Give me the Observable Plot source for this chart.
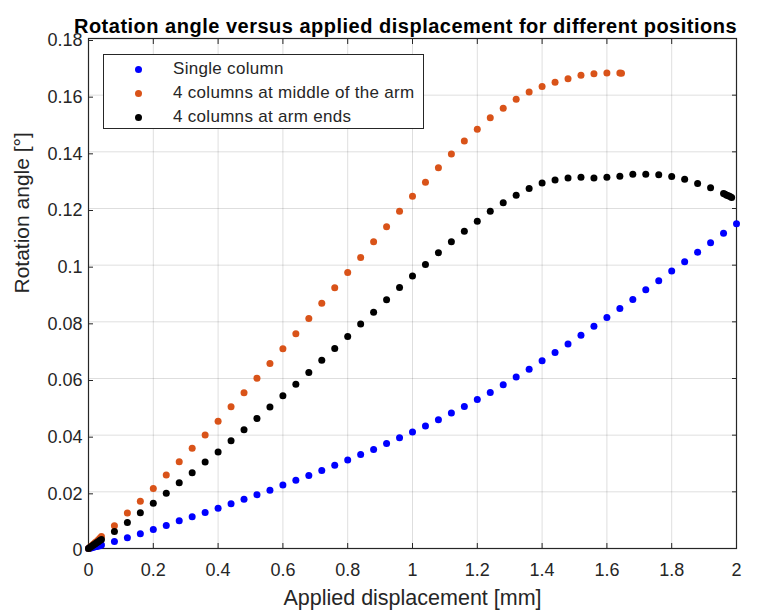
<!DOCTYPE html>
<html>
<head>
<meta charset="utf-8">
<script src="https://cdn.jsdelivr.net/npm/d3@7"></script>
<script src="https://cdn.jsdelivr.net/npm/@observablehq/plot@0.6"></script>
<style>
  html, body { margin: 0; padding: 0; background: #fff; }
  #wrap { position: relative; width: 758px; height: 615px; font-family: "Liberation Sans", Arial, Helvetica, sans-serif; }
  #legend { position: absolute; left: 103px; top: 54px; width: 321px; height: 75px; border: 1px solid #262626; background: #fff; box-sizing: border-box; }
  .row { position: absolute; left: 0; height: 22px; display: flex; align-items: center; font-size: 17px; letter-spacing: 0.3px; color: #262626; }
  .sw { position: absolute; left: 31px; width: 7px; height: 7px; border-radius: 50%; }
  .lt { position: absolute; left: 69px; white-space: nowrap; }
  svg text.tl { letter-spacing: 0.8px; }
</style>
</head>
<body>
<div id="wrap"></div>
<script>
// ---- data ----
const seriesNames = ["Single column", "4 columns at middle of the arm", "4 columns at arm ends"];
const seriesColors = ["#0000ff", "#d95319", "#000000"];

const singleX = [0, 0.005, 0.01, 0.015, 0.02, 0.025, 0.03, 0.035, 0.04,
  0.08, 0.12, 0.16, 0.20, 0.24, 0.28, 0.32, 0.36, 0.40, 0.44, 0.48, 0.52, 0.56, 0.60, 0.64, 0.68, 0.72, 0.76, 0.80, 0.84, 0.88, 0.92, 0.96,
  1.00, 1.04, 1.08, 1.12, 1.16, 1.20, 1.24, 1.28, 1.32, 1.36, 1.40, 1.44, 1.48, 1.52, 1.56, 1.60, 1.64, 1.68, 1.72, 1.76, 1.80, 1.84, 1.88, 1.92, 1.96, 2.00];
const singleY = [0, 0.0001, 0.0003, 0.0004, 0.0006, 0.0007, 0.0009, 0.0010, 0.0012,
  0.0025, 0.0038, 0.0052, 0.0067, 0.0081, 0.0098, 0.0112, 0.0127, 0.0142, 0.0158, 0.0174, 0.0190, 0.0206, 0.0224, 0.0241, 0.0258, 0.0275, 0.0294, 0.0312, 0.0332, 0.0349, 0.0371, 0.0391,
  0.0411, 0.0432, 0.0454, 0.0478, 0.0501, 0.0526, 0.0551, 0.0578, 0.0605, 0.0633, 0.0663, 0.0692, 0.0722, 0.0753, 0.0784, 0.0815, 0.0847, 0.0879, 0.0913, 0.0945, 0.0979, 0.1012, 0.1046, 0.1079, 0.1113, 0.1146];

const middleX = [0, 0.005, 0.01, 0.015, 0.02, 0.025, 0.03, 0.035, 0.04,
  0.08, 0.12, 0.16, 0.20, 0.24, 0.28, 0.32, 0.36, 0.40, 0.44, 0.48, 0.52, 0.56, 0.60, 0.64, 0.68, 0.72, 0.76, 0.80, 0.84, 0.88, 0.92, 0.96,
  1.00, 1.04, 1.08, 1.12, 1.16, 1.20, 1.24, 1.28, 1.32, 1.36, 1.40, 1.44, 1.48, 1.52, 1.56, 1.60, 1.64, 1.645];
const middleY = [0, 0.0005, 0.0010, 0.0015, 0.0020, 0.0025, 0.0030, 0.0036, 0.0042,
  0.0080, 0.0125, 0.0167, 0.0212, 0.0259, 0.0306, 0.0354, 0.0401, 0.0449, 0.0500, 0.0550, 0.0601, 0.0653, 0.0705, 0.0758, 0.0812, 0.0866, 0.0920, 0.0974, 0.1027, 0.1083, 0.1136, 0.1190,
  0.1243, 0.1293, 0.1344, 0.1392, 0.1438, 0.1480, 0.1520, 0.1554, 0.1586, 0.1611, 0.1631, 0.1646, 0.1658, 0.1670, 0.1676, 0.1678, 0.1678, 0.1677];

const endsX = [0, 0.005, 0.01, 0.015, 0.02, 0.025, 0.03, 0.035, 0.04,
  0.08, 0.12, 0.16, 0.20, 0.24, 0.28, 0.32, 0.36, 0.40, 0.44, 0.48, 0.52, 0.56, 0.60, 0.64, 0.68, 0.72, 0.76, 0.80, 0.84, 0.88, 0.92, 0.96,
  1.00, 1.04, 1.08, 1.12, 1.16, 1.20, 1.24, 1.28, 1.32, 1.36, 1.40, 1.44, 1.48, 1.52, 1.56, 1.60, 1.64, 1.68, 1.72, 1.76, 1.80, 1.84, 1.88, 1.92, 1.96,
  1.965, 1.97, 1.975, 1.98, 1.985];
const endsY = [0, 0.0004, 0.0008, 0.0012, 0.0016, 0.0020, 0.0024, 0.0028, 0.0032,
  0.0060, 0.0092, 0.0126, 0.0160, 0.0195, 0.0232, 0.0267, 0.0305, 0.0341, 0.0380, 0.0419, 0.0459, 0.0499, 0.0539, 0.0580, 0.0621, 0.0664, 0.0706, 0.0748, 0.0792, 0.0834, 0.0878, 0.0921,
  0.0962, 0.1002, 0.1044, 0.1083, 0.1120, 0.1155, 0.1190, 0.1220, 0.1247, 0.1271, 0.1290, 0.1301, 0.1308, 0.1310, 0.1308, 0.1310, 0.1314, 0.1321, 0.1321, 0.1319, 0.1313, 0.1303, 0.1288, 0.1273, 0.1253,
  0.1250, 0.1247, 0.1245, 0.1242, 0.1239];

const xTicks = [0, 0.2, 0.4, 0.6, 0.8, 1, 1.2, 1.4, 1.6, 1.8, 2];
const xTickLabels = ["0", "0.2", "0.4", "0.6", "0.8", "1", "1.2", "1.4", "1.6", "1.8", "2"];
const yTicks = [0, 0.02, 0.04, 0.06, 0.08, 0.1, 0.12, 0.14, 0.16, 0.18];
const yTickLabels = ["0", "0.02", "0.04", "0.06", "0.08", "0.1", "0.12", "0.14", "0.16", "0.18"];

const titleText = "Rotation angle versus applied displacement for different positions";
const xLabel = "Applied displacement [mm]";
const yLabel = "Rotation angle [°]";

// ---- build table ----
const allX = [singleX, middleX, endsX];
const allY = [singleY, middleY, endsY];
const rows = [];
allX.forEach((xs, s) => xs.forEach((x, i) => rows.push({series: seriesNames[s], x, y: allY[s][i]})));

const axisColor = "#262626";
const chart = Plot.plot({
  width: 758,
  height: 615,
  marginLeft: 88,
  marginRight: 22,
  marginTop: 38,
  marginBottom: 67,
  style: {fontFamily: '"Liberation Sans", Arial, Helvetica, sans-serif', background: "#fff", color: axisColor},
  x: {domain: [0, 2]},
  y: {domain: [0, 0.18]},
  color: {domain: seriesNames, range: seriesColors},
  marks: [
    Plot.gridX(xTicks, {stroke: "#000", strokeOpacity: 0.13}),
    Plot.gridY(yTicks, {stroke: "#000", strokeOpacity: 0.13}),
    Plot.axisX({anchor: "bottom", ticks: xTicks, tickSize: -5, tickPadding: 20, fontSize: 18, className: "tl",
      tickFormat: d => xTickLabels[xTicks.indexOf(d)], label: null, stroke: axisColor, fill: axisColor}),
    Plot.axisX({anchor: "top", ticks: xTicks, tickSize: -5, tickFormat: () => "", label: null, stroke: axisColor}),
    Plot.axisY({anchor: "left", ticks: yTicks, tickSize: -5, tickPadding: 11, dy: 2, fontSize: 18, className: "tl",
      tickFormat: d => yTickLabels[yTicks.indexOf(d)], label: null, stroke: axisColor, fill: axisColor}),
    Plot.axisY({anchor: "right", ticks: yTicks, tickSize: -5, tickFormat: () => "", label: null, stroke: axisColor}),
    Plot.frame({stroke: axisColor, strokeWidth: 1.2}),
    Plot.dot(rows, {x: "x", y: "y", fill: "series", r: 3.5, stroke: null}),
    Plot.text([xLabel], {frameAnchor: "bottom", dy: 56, fontSize: 21.5, fill: axisColor}),
    Plot.text([yLabel], {frameAnchor: "left", dx: -66, rotate: -90, fontSize: 21, fill: axisColor}),
    Plot.text([titleText], {frameAnchor: "top", dy: -20, dx: -7, fontSize: 20, fontWeight: "bold", fill: "#000", className: "ttl"})
  ]
});

const wrap = document.getElementById("wrap");
wrap.appendChild(chart);
chart.querySelectorAll("g.ttl text, g[aria-label='text'] text").forEach(t => {
  if (t.textContent === titleText) t.style.letterSpacing = "0.5px";
});

// legend
const legend = document.createElement("div");
legend.id = "legend";
seriesNames.forEach((name, i) => {
  const row = document.createElement("div");
  row.className = "row";
  row.style.top = (3 + i * 24) + "px";
  row.style.width = "100%";
  const sw = document.createElement("span");
  sw.className = "sw";
  sw.style.background = seriesColors[i];
  const lt = document.createElement("span");
  lt.className = "lt";
  lt.textContent = name;
  row.appendChild(sw);
  row.appendChild(lt);
  legend.appendChild(row);
});
wrap.appendChild(legend);
</script>
</body>
</html>
